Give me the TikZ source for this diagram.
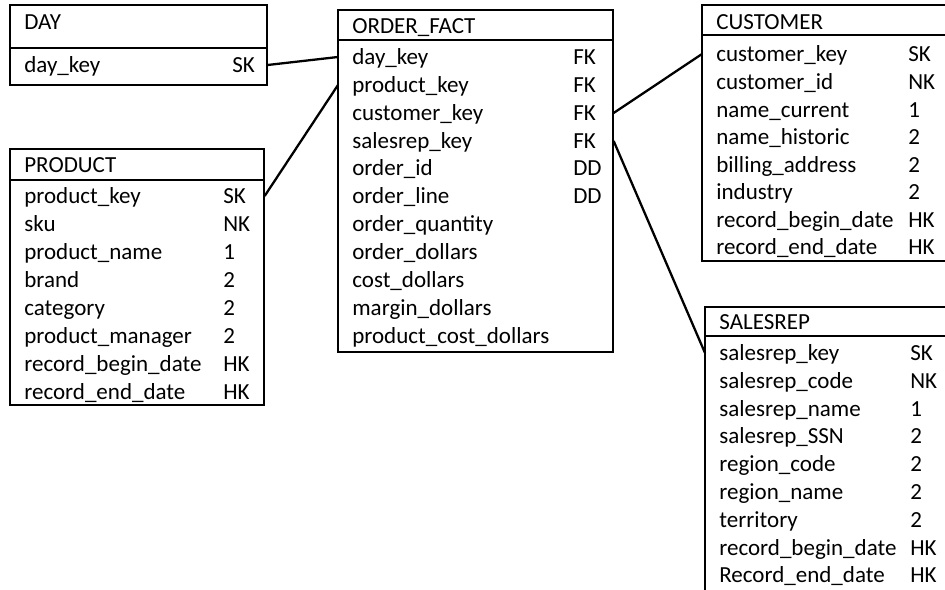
\documentclass[tikz,border=0pt]{standalone}
\usepackage{fontspec}
\setmainfont{Carlito}
\usepackage{tikz}

\newlength{\keypos}
\newcommand{\fld}[2]{\makebox[\keypos][l]{#1}#2}

\begin{document}
\begin{tikzpicture}[x=0.02cm,y=-0.02cm,
  font=\fontsize{13.1}{15.7}\selectfont,
  box/.style={line width=0.6pt},
  link/.style={line width=1.3pt},
  hdr/.style={anchor=west,inner xsep=0.28cm,inner ysep=0pt,text height=0.36cm,text depth=0.06cm},
  fld/.style={hdr,align=left},
  dayfld/.style={fld,text width=4.58cm},
  prodfld/.style={fld,text width=4.52cm},
  factfld/.style={fld,text width=4.94cm},
  custfld/.style={fld,text width=4.70cm},
  repfld/.style={fld,text width=4.64cm}]

\useasboundingbox (0,0) rectangle (945,590);
\clip (0,0) rectangle (945,590);

% tables
\draw[box] (10,5) rectangle (267,85);
\draw[box] (10,48) -- (267,48);
\draw[box] (10,149) rectangle (264,405);
\draw[box] (10,180) -- (264,180);
\draw[box] (338,10) rectangle (613,352);
\draw[box] (338,40) -- (613,40);
\draw[box] (702,5) rectangle (965,261);
\draw[box] (702,35) -- (965,35);
\draw[box] (705,307) rectangle (965,592);
\draw[box] (705,336) -- (965,336);

% DAY
\setlength{\keypos}{4.16cm}
\node[hdr] (dh) at (10,22) {DAY};
\node[dayfld] (d1) at (10,65) {\fld{day\_key}{SK}};

% PRODUCT
\setlength{\keypos}{3.98cm}
\node[hdr] (ph) at (10,165) {PRODUCT};
\node[prodfld] (p1) at (10,196) {\fld{product\_key}{SK}};
\node[prodfld] (p2) at (10,224) {\fld{sku}{NK}};
\node[prodfld] (p3) at (10,252) {\fld{product\_name}{1}};
\node[prodfld] (p4) at (10,280) {\fld{brand}{2}};
\node[prodfld] (p5) at (10,308) {\fld{category}{2}};
\node[prodfld] (p6) at (10,336) {\fld{product\_manager}{2}};
\node[prodfld] (p7) at (10,364) {\fld{record\_begin\_date}{HK}};
\node[prodfld] (p8) at (10,392) {\fld{record\_end\_date}{HK}};

% ORDER_FACT
\setlength{\keypos}{4.42cm}
\node[hdr] (fh) at (338,26) {ORDER\_FACT};
\node[factfld] (f1) at (338,57) {\fld{day\_key}{FK}};
\node[factfld] (f2) at (338,85) {\fld{product\_key}{FK}};
\node[factfld] (f3) at (338,113) {\fld{customer\_key}{FK}};
\node[factfld] (f4) at (338,141) {\fld{salesrep\_key}{FK}};
\node[factfld] (f5) at (338,168) {\fld{order\_id}{DD}};
\node[factfld] (f6) at (338,196) {\fld{order\_line}{DD}};
\node[factfld] (f7) at (338,224) {\fld{order\_quantity}{}};
\node[factfld] (f8) at (338,252) {\fld{order\_dollars}{}};
\node[factfld] (f9) at (338,280) {\fld{cost\_dollars}{}};
\node[factfld] (f10) at (338,308) {\fld{margin\_dollars}{}};
\node[factfld] (f11) at (338,336) {\fld{product\_cost\_dollars}{}};

% CUSTOMER
\setlength{\keypos}{3.84cm}
\node[hdr] (ch) at (702,22) {CUSTOMER};
\node[custfld] (c1) at (702,54) {\fld{customer\_key}{SK}};
\node[custfld] (c2) at (702,82) {\fld{customer\_id}{NK}};
\node[custfld] (c3) at (702,110) {\fld{name\_current}{1}};
\node[custfld] (c4) at (702,137) {\fld{name\_historic}{2}};
\node[custfld] (c5) at (702,165) {\fld{billing\_address}{2}};
\node[custfld] (c6) at (702,192) {\fld{industry}{2}};
\node[custfld] (c7) at (702,220) {\fld{record\_begin\_date}{HK}};
\node[custfld] (c8) at (702,247) {\fld{record\_end\_date}{HK}};

% SALESREP
\setlength{\keypos}{3.82cm}
\node[hdr] (sh) at (705,322) {SALESREP};
\node[repfld] (s1) at (705,353) {\fld{salesrep\_key}{SK}};
\node[repfld] (s2) at (705,381) {\fld{salesrep\_code}{NK}};
\node[repfld] (s3) at (705,409) {\fld{salesrep\_name}{1}};
\node[repfld] (s4) at (705,436) {\fld{salesrep\_SSN}{2}};
\node[repfld] (s5) at (705,464) {\fld{region\_code}{2}};
\node[repfld] (s6) at (705,492) {\fld{region\_name}{2}};
\node[repfld] (s7) at (705,520) {\fld{territory}{2}};
\node[repfld] (s8) at (705,548) {\fld{record\_begin\_date}{HK}};
\node[repfld] (s9) at (705,575) {\fld{Record\_end\_date}{HK}};

% joins
\draw[link] (d1.east) -- (f1.west);
\draw[link] (p1.east) -- (f2.west);
\draw[link] (f3.east) -- (c1.west);
\draw[link] (f4.east) -- (s1.west);

\end{tikzpicture}
\end{document}
